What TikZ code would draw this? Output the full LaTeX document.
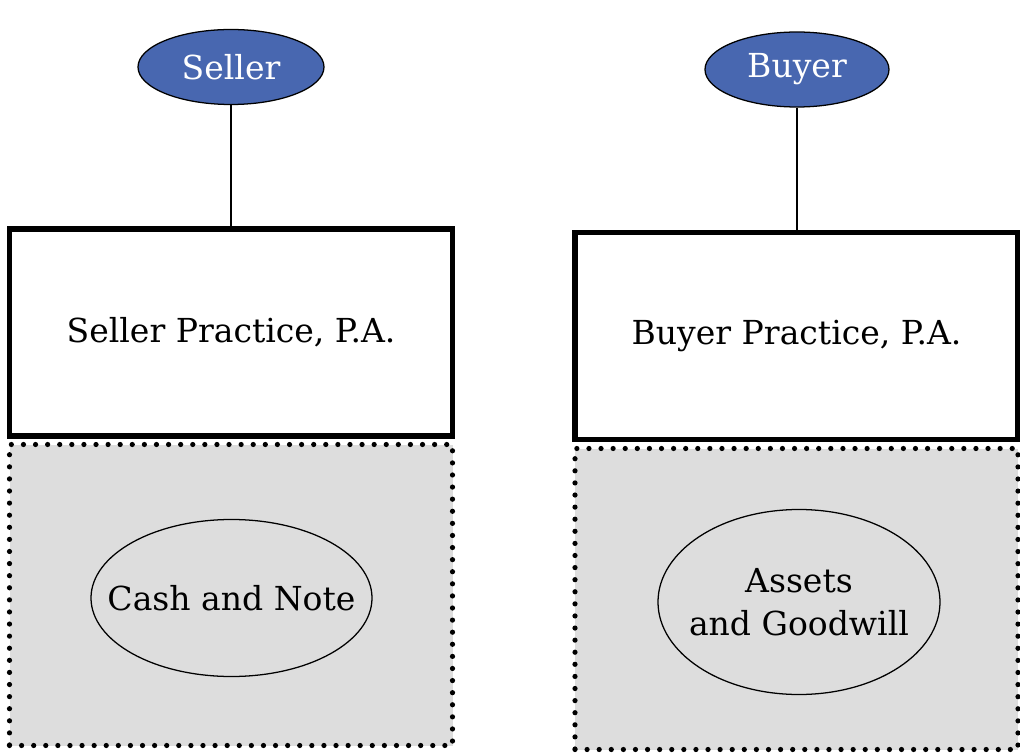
\documentclass[tikz,border=0pt]{standalone}
\usepackage{fontspec}
\setmainfont{DejaVu Serif}
\usetikzlibrary{shapes.geometric}
\definecolor{bleu}{RGB}{72,103,176}
\definecolor{gris}{RGB}{221,221,221}

\begin{document}
\begin{tikzpicture}[x=0.025cm,y=-0.025cm]

%%%%%%%%%%%%%%%%%%%%%%
%%%	 Def géométrie  %%%
%%%%%%%%%%%%%%%%%%%%%%

\def \unite{0.025cm}
\def \xvendeur{231}
\def \xacheteur{797}
\def \larg{443}
\def \hautsoc{207}
\def \hautact{301}

%%%%%%%%%%%%%%%%%%%%%%
%%%	   Def style    %%%
%%%%%%%%%%%%%%%%%%%%%%

\def \heavy{3.6pt}
\def \light{0.9pt}
\def \pointille{3.7pt}

\tikzset{
  texte/.style={font=\fontsize{23.5}{31}\selectfont},
  personne/.style={ellipse, draw, line width=\light, fill=bleu, text=white,
    minimum width=186*\unite, minimum height=75*\unite, inner sep=0pt, texte},
  societe/.style={rectangle, draw, line width=\heavy, fill=white,
    minimum width=\larg*\unite, minimum height=\hautsoc*\unite, texte},
  actif/.style={rectangle, draw, fill=gris, line width=\pointille,
    dash pattern=on 0pt off 8.6pt, line cap=round,
    minimum width=\larg*\unite, minimum height=\hautact*\unite},
  bien/.style={inner sep=0pt, align=center, texte}
}

\useasboundingbox (0,0) rectangle (1020,755);

%%%%%%%%%%%%%%%%%%%%%%
%%%	    Dessin      %%%
%%%%%%%%%%%%%%%%%%%%%%

% Le vendeur
\node[actif] (actV) at (\xvendeur,595) {};
\node[societe] (socV) at (\xvendeur,332.5) {Seller Practice, P.A.};
\node[personne] (vendeur) at (\xvendeur,67) {Seller};
\node[bien] (cash) at (231.5,598) {Cash and Note};
\draw[line width=\light] (cash.center) ellipse [x radius=140.5, y radius=78.5];

\draw[line width=\light] (vendeur) -- (socV);

% L'acheteur
\node[actif] (actA) at (796.5,599) {};
\node[societe] (socA) at (796.5,336) {Buyer Practice, P.A.};
\node[personne, minimum width=184*\unite] (acheteur) at (\xacheteur,69.5) {Buyer};
\node[bien] (actifs) at (799,602) {Assets\\and Goodwill};
\draw[line width=\light] (actifs.center) ellipse [x radius=141, y radius=92.5];

\draw[line width=\light] (acheteur) -- (acheteur |- socA.north);

%%%%%%%%%%%%%%%%%%%%%%%%%%%%%%%%%%%%%%%%%

\end{tikzpicture}
\end{document}
